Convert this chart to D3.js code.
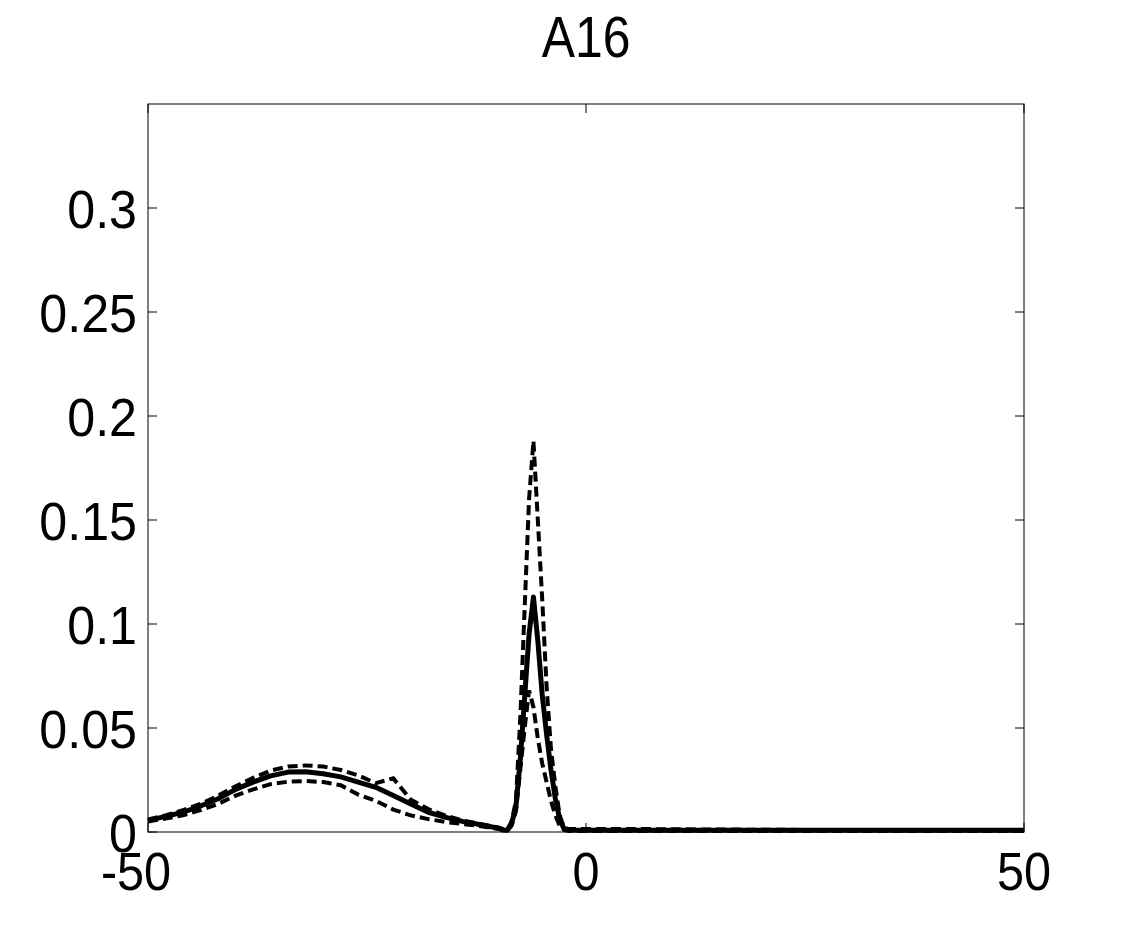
<!DOCTYPE html>
<html>
<head>
<meta charset="utf-8">
<script src="https://cdn.jsdelivr.net/npm/d3@7"></script>
<style>
  body { margin: 0; background: #fff; }
  text { font-family: "Liberation Sans", Arial, sans-serif; fill: #000; }
</style>
</head>
<body>
<div id="chart"></div>
<script>
// data
var title = "A16";
var xValues = [-50, -48, -46, -44, -42, -40, -38, -36, -34, -32, -30, -28, -26, -24, -22, -20, -18, -16, -14, -12, -10,
  -9.5, -9, -8.5, -8, -7.5, -7, -6.5, -6, -5.5, -5, -4.5, -4, -3.5, -3, -2.5, -2,
  0, 5, 10, 15, 20, 25, 30, 35, 40, 45, 50];
var meanLine = [.0055, .0075, .0095, .0125, .016, .0205, .024, .027, .0288, .029, .028, .0265, .024, .0215, .0175, .0135, .0095, .007, .005, .0035, .0018,
  .001, .0008, .004, .012, .035, .065, .095, .113, .092, .066, .047, .03, .016, .006, .0015, .001,
  .0009, .0009, .0009, .0009, .0009, .0009, .0009, .0009, .0009, .0009, .0009];
var upperLine = [.006, .008, .0105, .0135, .0175, .022, .026, .0295, .0315, .032, .0315, .0298, .0272, .0235, .0258, .0155, .011, .0078, .0055, .0038, .0022,
  .0015, .001, .005, .015, .055, .108, .16, .188, .15, .112, .07, .04, .022, .008, .002, .0015,
  .0015, .0015, .0013, .0012, .0011, .001, .0009, .0009, .0009, .0009, .0009];
var lowerLine = [.005, .0065, .008, .0105, .0135, .0175, .0205, .023, .0242, .0245, .024, .0225, .018, .015, .0108, .008, .0062, .0048, .0038, .0028, .0015,
  .001, .0006, .003, .01, .03, .05, .068, .06, .045, .033, .024, .015, .008, .003, .001, .0005,
  .0005, .0005, .0005, .0005, .0005, .0005, .0005, .0005, .0005, .0005, .0005];
var xTicks = [-50, 0, 50];
var yTicks = [0, 0.05, 0.1, 0.15, 0.2, 0.25, 0.3];

var margin = { top: 104, right: 108, bottom: 104, left: 148 },
  width = 1132 - margin.left - margin.right,
  height = 936 - margin.top - margin.bottom;

var root = d3.select("#chart")
  .append("svg")
  .attr("width", 1132)
  .attr("height", 936);

var svg = root.append("g")
  .attr("transform", "translate(" + margin.left + "," + margin.top + ")");

var x = d3.scaleLinear().domain([-50, 50]).range([0, width]);
var y = d3.scaleLinear().domain([0, 0.35]).range([height, 0]);

// curves
var line = d3.line()
  .x(function (d) { return x(d[0]); })
  .y(function (d) { return y(d[1]); });

function pairs(vals) {
  return xValues.map(function (v, i) { return [v, vals[i]]; });
}

svg.append("path")
  .datum(pairs(upperLine))
  .attr("d", line)
  .attr("fill", "none")
  .attr("stroke", "#000")
  .attr("stroke-width", 4)
  .attr("stroke-dasharray", "10,5");

svg.append("path")
  .datum(pairs(lowerLine))
  .attr("d", line)
  .attr("fill", "none")
  .attr("stroke", "#000")
  .attr("stroke-width", 4)
  .attr("stroke-dasharray", "10,5");

svg.append("path")
  .datum(pairs(meanLine))
  .attr("d", line)
  .attr("fill", "none")
  .attr("stroke", "#000")
  .attr("stroke-width", 5)
  .attr("stroke-linejoin", "round");

// box
svg.append("rect")
  .attr("x", 0).attr("y", 0)
  .attr("width", width).attr("height", height)
  .attr("fill", "none")
  .attr("stroke", "#000")
  .attr("stroke-width", 1);

// ticks pointing inward, on all four sides
var tickLen = 9;
xTicks.forEach(function (t) {
  svg.append("line").attr("x1", x(t)).attr("x2", x(t)).attr("y1", height).attr("y2", height - tickLen).attr("stroke", "#000");
  svg.append("line").attr("x1", x(t)).attr("x2", x(t)).attr("y1", 0).attr("y2", tickLen).attr("stroke", "#000");
  svg.append("text")
    .attr("transform", "translate(" + (x(t) + (t < 0 ? -12 : 0)) + "," + (height + 58) + ") scale(0.9,1)")
    .attr("text-anchor", "middle")
    .style("font-size", "54px")
    .text(t);
});

yTicks.forEach(function (t) {
  svg.append("line").attr("x1", 0).attr("x2", tickLen).attr("y1", y(t)).attr("y2", y(t)).attr("stroke", "#000");
  svg.append("line").attr("x1", width).attr("x2", width - tickLen).attr("y1", y(t)).attr("y2", y(t)).attr("stroke", "#000");
  svg.append("text")
    .attr("transform", "translate(-11," + (y(t) + 20) + ") scale(0.93,1)")
    .attr("text-anchor", "end")
    .style("font-size", "54px")
    .text(t);
});

// title
root.append("text")
  .attr("transform", "translate(" + (margin.left + width / 2) + ",57) scale(0.86,1)")
  .attr("text-anchor", "middle")
  .style("font-size", "58px")
  .text(title);
</script>
</body>
</html>
